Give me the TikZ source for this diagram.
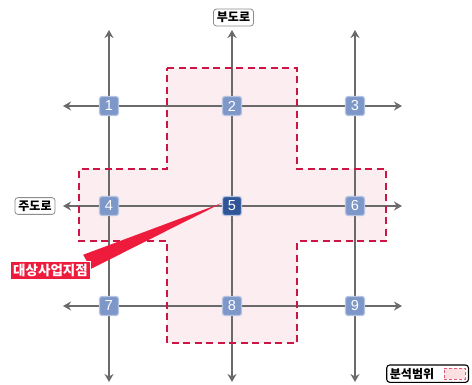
\documentclass[tikz,border=0pt]{standalone}
\usepackage{fontspec}
\setmainfont{Liberation Sans}
\newfontfamily\kr{Noto Sans CJK KR}
\usetikzlibrary{arrows.meta,fit}
\definecolor{road}{HTML}{6A6A6A}
\definecolor{zone}{HTML}{FBEDF0}
\definecolor{zoneline}{HTML}{CC1445}
\definecolor{juncfill}{HTML}{7D97C8}
\definecolor{juncline}{HTML}{B4C4E2}
\definecolor{juncdark}{HTML}{2F5597}
\definecolor{callred}{HTML}{EE1B3C}
\tikzset{
  roadline/.style={draw=road, line width=2.8pt, {Stealth[length=8pt,width=9pt]}-{Stealth[length=8pt,width=9pt]}},
  zoneedge/.style={draw=zoneline, line width=1.8pt, dash pattern=on 7pt off 4.5pt},
  junc/.style={rectangle, rounded corners=2.5pt, fill=juncfill, draw=juncline, line width=1.2pt,
    minimum size=19pt, inner sep=0pt, text=white, font=\fontsize{14.5}{14.5}\selectfont},
  juncsel/.style={junc, fill=juncdark, draw=juncline},
  roadlabel/.style={rectangle, rounded corners=3pt, fill=white, draw=black!45, line width=0.8pt,
    inner xsep=3.5pt, inner ysep=3pt, font=\kr\bfseries\fontsize{12}{12}\selectfont},
  calllabel/.style={rectangle, fill=callred, draw=white, line width=0.8pt, text=white,
    inner xsep=3pt, inner ysep=3pt, font=\kr\bfseries\fontsize{13.5}{14}\selectfont},
  legtext/.style={inner sep=0pt, font=\kr\bfseries\fontsize{12}{12}\selectfont},
  legswatch/.style={rectangle, fill=zone!70!pink, draw=zoneline!70!white, line width=1pt,
    dash pattern=on 3pt off 2pt, minimum width=21pt, minimum height=11pt, inner sep=0pt},
  legbox/.style={rectangle, rounded corners=3pt, draw=black, line width=1.1pt, inner xsep=3pt, inner ysep=2.5pt}
}
\begin{document}
\begin{tikzpicture}[x=1pt,y=-1pt]
\useasboundingbox (0,0) rectangle (472,384);
% analysis zone
\fill[zone] (167,68) -- (297,68) -- (297,169) -- (386,169) -- (386,241) -- (297,241)
  -- (297,343) -- (167,343) -- (167,241) -- (79,241) -- (79,169) -- (167,169) -- cycle;
% road end coordinates
\coordinate (t1) at (109,30); \coordinate (b1) at (109,382);
\coordinate (t2) at (232,30); \coordinate (b2) at (232,382);
\coordinate (t3) at (355,30); \coordinate (b3) at (355,382);
\coordinate (l1) at (63,106); \coordinate (r1) at (402,106);
\coordinate (l2) at (63,206); \coordinate (r2) at (402,206);
\coordinate (l3) at (63,306); \coordinate (r3) at (402,306);
\draw[roadline] (b1) -- (t1);
\draw[roadline] (b2) -- (t2);
\draw[roadline] (b3) -- (t3);
\draw[roadline] (l1) -- (r1);
\draw[roadline] (l2) -- (r2);
\draw[roadline] (l3) -- (r3);
% zone outline
\draw[zoneedge] (167,68) -- (297,68) -- (297,169) -- (386,169) -- (386,241) -- (297,241)
  -- (297,343) -- (167,343) -- (167,241) -- (79,241) -- (79,169) -- (167,169) -- cycle;
% junctions
\node[junc] (n1) at (109,106) {1};
\node[junc] (n2) at (232,106) {2};
\node[junc] (n3) at (355,106) {3};
\node[junc] (n4) at (109,206) {4};
\node[juncsel] (n5) at (232,206) {5};
\node[junc] (n6) at (355,206) {6};
\node[junc] (n7) at (109,306) {7};
\node[junc] (n8) at (232,306) {8};
\node[junc] (n9) at (355,306) {9};
% road labels
\node[roadlabel] (sub) at (233.5,17.5) {부도로};
\node[roadlabel] (main) at (35,206) {주도로};
% callout
\node[calllabel] (site) at (50.5,270.5) {대상사업지점};
\fill[callred] ([yshift=3pt]n5.west) -- ([xshift=-8pt,yshift=6pt]site.north east) -- ([yshift=-8pt]site.north east) -- cycle;
\node[calllabel] at (site) {대상사업지점};
% legend
\node[legtext] (legt) at (412,374) {분석범위};
\node[legswatch] (legs) at (454.5,373.5) {};
\node[legbox, fit=(legt)(legs)] (leg) {};
\end{tikzpicture}
\end{document}
